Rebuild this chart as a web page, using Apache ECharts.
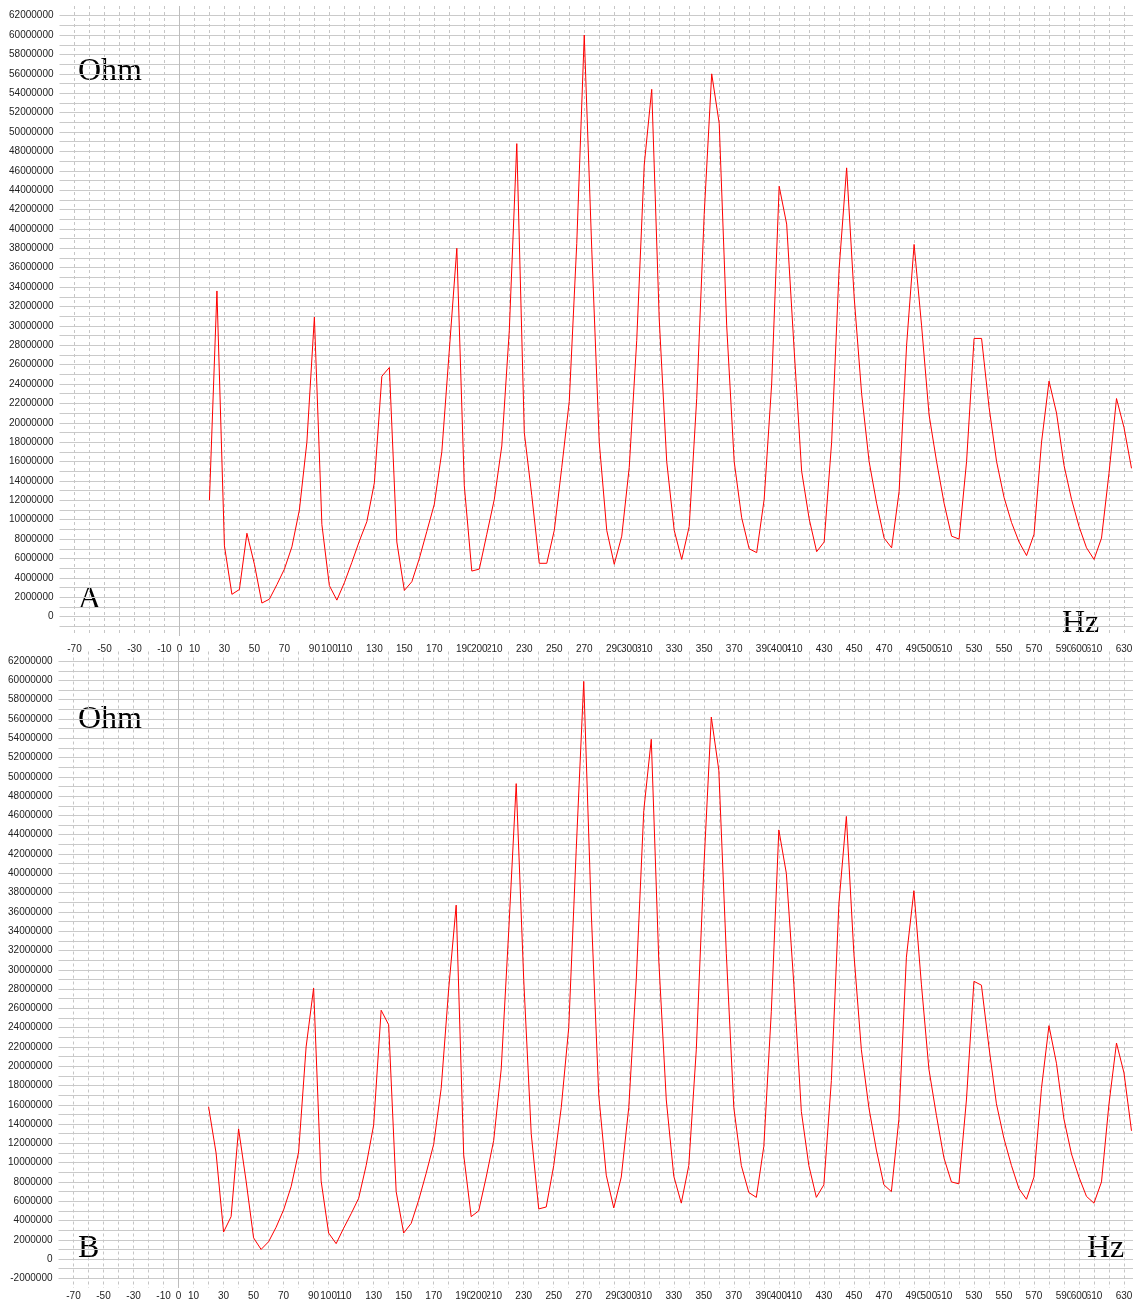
<!DOCTYPE html>
<html>
<head>
<meta charset="utf-8">
<title>Impedance spectra A and B</title>
<script src="https://cdn.jsdelivr.net/npm/echarts@6/dist/echarts.min.js"></script>
<style>
  html, body { margin: 0; padding: 0; background: #ffffff; }
  #chart { width: 1136px; height: 1301px; }
</style>
</head>
<body>
<div id="chart"></div>
<script>
// Measurement frequencies (Hz), one sample every 5 Hz
const FREQ_HZ = [
  20, 25, 30, 35, 40, 45, 50, 55, 60, 65, 70, 75, 80, 85, 90, 95,
  100, 105, 110, 115, 120, 125, 130, 135, 140, 145, 150, 155, 160, 165, 170, 175,
  180, 185, 190, 195, 200, 205, 210, 215, 220, 225, 230, 235, 240, 245, 250, 255,
  260, 265, 270, 275, 280, 285, 290, 295, 300, 305, 310, 315, 320, 325, 330, 335,
  340, 345, 350, 355, 360, 365, 370, 375, 380, 385, 390, 395, 400, 405, 410, 415,
  420, 425, 430, 435, 440, 445, 450, 455, 460, 465, 470, 475, 480, 485, 490, 495,
  500, 505, 510, 515, 520, 525, 530, 535, 540, 545, 550, 555, 560, 565, 570, 575,
  580, 585, 590, 595, 600, 605, 610, 615, 620, 625, 630, 635
];

// Impedance of sample A, in millions of Ohm
const IMPEDANCE_A_MOHM = [
  12.0, 33.6, 7.3, 2.3, 2.8, 8.6, 5.4, 1.4, 1.8, 3.3, 4.9, 7.2, 11.0, 18.0, 30.9, 9.5,
  3.2, 1.7, 3.5, 5.6, 7.8, 9.8, 13.8, 24.8, 25.7, 7.7, 2.7, 3.6, 6.0, 8.8, 11.6, 17.0,
  27.5, 38.0, 13.5, 4.7, 4.9, 8.5, 12.1, 17.6, 29.5, 48.8, 19.0, 12.5, 5.5, 5.5, 8.9, 15.4,
  22.2, 38.5, 60.0, 37.9, 18.0, 8.9, 5.4, 8.3, 15.4, 28.5, 46.6, 54.4, 30.7, 16.0, 8.9, 5.9,
  9.3, 22.5, 41.5, 56.0, 50.9, 30.0, 16.0, 10.2, 7.0, 6.6, 12.1, 24.0, 44.4, 40.5, 27.5, 15.0,
  10.1, 6.7, 7.7, 18.0, 35.9, 46.3, 33.0, 23.0, 16.0, 11.7, 8.1, 7.1, 12.9, 28.0, 38.4, 30.0,
  20.8, 16.0, 11.7, 8.3, 8.0, 16.0, 28.7, 28.7, 21.6, 16.0, 12.3, 9.7, 7.7, 6.3, 8.5, 18.0,
  24.3, 21.0, 15.6, 12.1, 9.3, 7.1, 5.9, 8.1, 14.8, 22.5, 19.5, 15.3
];

// Impedance of sample B, in millions of Ohm
const IMPEDANCE_B_MOHM = [
  15.8, 11.0, 2.8, 4.4, 13.5, 8.1, 2.2, 1.0, 1.8, 3.3, 5.1, 7.5, 11.1, 22.0, 28.1, 8.1,
  2.7, 1.6, 3.2, 4.7, 6.3, 9.7, 13.9, 25.8, 24.3, 7.0, 2.7, 3.7, 6.1, 8.9, 11.9, 17.7,
  28.0, 36.7, 10.8, 4.4, 5.0, 8.5, 12.3, 19.7, 34.0, 49.3, 29.0, 13.0, 5.2, 5.4, 9.7, 15.7,
  24.0, 42.5, 59.9, 36.0, 17.0, 8.7, 5.3, 8.5, 15.7, 29.0, 46.5, 53.9, 31.0, 16.5, 8.6, 5.8,
  9.7, 21.7, 40.5, 56.2, 50.7, 31.7, 15.7, 9.7, 6.9, 6.4, 11.7, 25.7, 44.5, 40.0, 28.5, 15.3,
  9.7, 6.4, 7.7, 18.5, 36.8, 45.9, 31.7, 21.7, 15.7, 11.3, 7.7, 7.0, 14.5, 31.3, 38.2, 28.5,
  19.7, 14.9, 10.5, 8.0, 7.8, 16.5, 28.8, 28.4, 22.0, 16.1, 12.5, 9.7, 7.3, 6.2, 8.5, 17.7,
  24.2, 20.3, 14.5, 10.9, 8.5, 6.5, 5.8, 8.0, 16.1, 22.4, 19.3, 13.3
];

// Frequency values that carry a label on the Hz axis
const X_TICK_LABELS = [
  -70, -50, -30, -10, 0, 10, 30, 50, 70, 90, 100, 110, 130, 150, 170, 190, 200, 210,
  230, 250, 270, 290, 300, 310, 330, 350, 370, 390, 400, 410, 430, 450, 470, 490, 500,
  510, 530, 550, 570, 590, 600, 610, 630
];

// Impedance values (millions of Ohm) that carry a label on each Ohm axis
const Y_TICK_LABELS_A = [
  0, 2, 4, 6, 8, 10, 12, 14, 16, 18, 20, 22, 24, 26, 28, 30,
  32, 34, 36, 38, 40, 42, 44, 46, 48, 50, 52, 54, 56, 58, 60, 62
];
const Y_TICK_LABELS_B = [
  -2, 0, 2, 4, 6, 8, 10, 12, 14, 16, 18, 20, 22, 24, 26, 28, 30,
  32, 34, 36, 38, 40, 42, 44, 46, 48, 50, 52, 54, 56, 58, 60, 62
];

const OHM_PER_MOHM = 1e6;
const ZERO_HZ = 0;

const tickFont = { fontFamily: 'Liberation Sans', fontSize: 10, color: '#222222' };

// Hz axis. The "hundreds" layer only prints 0, 100, 200 ... and is drawn
// after the first layer so those labels sit on top of their neighbours.
function hzAxis(gridIndex, labelMargin, hundredsLayer) {
  return {
    type: 'value',
    gridIndex: gridIndex,
    position: 'bottom',
    min: -80,
    max: 636,
    interval: 10,
    axisLine: { show: false },
    axisTick: { show: false },
    axisLabel: {
      ...tickFont,
      margin: labelMargin,
      backgroundColor: '#ffffff',
      hideOverlap: false,
      formatter: function (v) {
        if (!X_TICK_LABELS.includes(v)) return '';
        const isHundred = v % 100 === 0;
        return isHundred === hundredsLayer ? String(v) : '';
      }
    },
    splitLine: {
      show: !hundredsLayer,
      showMinLine: false,
      showMaxLine: false,
      lineStyle: { color: '#c6c6c6', width: 1, type: [3, 3] }
    }
  };
}

function ohmAxis(gridIndex, minMOhm, labels) {
  return {
    type: 'value',
    gridIndex: gridIndex,
    min: minMOhm * OHM_PER_MOHM,
    max: 63 * OHM_PER_MOHM,
    interval: OHM_PER_MOHM,
    axisLine: { show: false },
    axisTick: { show: false },
    axisLabel: {
      ...tickFont,
      margin: 6,
      hideOverlap: false,
      formatter: function (v) { return labels.includes(v / OHM_PER_MOHM) ? String(v) : ''; }
    },
    splitLine: {
      show: true,
      showMinLine: false,
      showMaxLine: false,
      lineStyle: { color: '#cacaca', width: 1 }
    }
  };
}

function spectrum(axisIndex, valuesMOhm) {
  return {
    type: 'line',
    xAxisIndex: axisIndex,
    yAxisIndex: axisIndex,
    data: FREQ_HZ.map(function (f, i) { return [f, valuesMOhm[i] * OHM_PER_MOHM]; }),
    symbol: 'none',
    silent: true,
    lineStyle: { color: '#ff0000', width: 1 },
    markLine: {
      silent: true,
      symbol: 'none',
      label: { show: false },
      lineStyle: { color: '#bdbdbd', type: 'solid', width: 1 },
      data: [{ xAxis: ZERO_HZ }]
    },
    z: 3
  };
}

const serifFont = {
  fontFamily: 'Liberation Serif', fontSize: 32,
  fill: '#000000', stroke: 'none', lineWidth: 0, verticalAlign: 'middle'
};

function caption(text, x, baselineY) {
  return { type: 'text', x: x, y: baselineY - 10, silent: true, style: { text: text, ...serifFont } };
}

const chart = echarts.init(document.getElementById('chart'), null, { renderer: 'canvas' });

chart.setOption({
  animation: false,
  backgroundColor: '#ffffff',
  grid: [
    { left: 59.5, right: 0, top: 6, height: 630 },
    { left: 58.5, right: 0, top: 651.5, height: 636.5 }
  ],
  xAxis: [hzAxis(0, 8, false), hzAxis(1, 3, false), hzAxis(0, 8, true), hzAxis(1, 3, true)],
  yAxis: [ohmAxis(0, -2, Y_TICK_LABELS_A), ohmAxis(1, -3, Y_TICK_LABELS_B)],
  series: [spectrum(0, IMPEDANCE_A_MOHM), spectrum(1, IMPEDANCE_B_MOHM)],
  graphic: [
    caption('Ohm', 78, 82),
    caption('A', 78, 610),
    caption('Hz', 1062, 634),
    caption('Ohm', 78, 730),
    caption('B', 78, 1259),
    caption('Hz', 1087, 1259)
  ]
});
</script>
</body>
</html>
